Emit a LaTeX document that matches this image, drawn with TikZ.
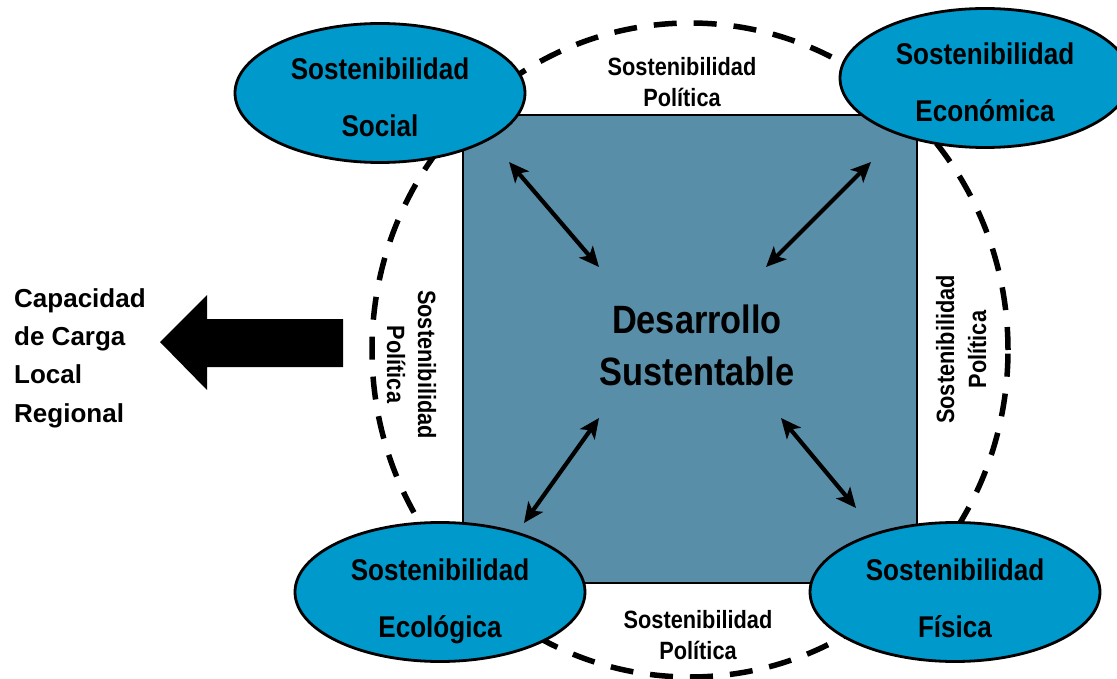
\documentclass[tikz,border=0pt]{standalone}
\usepackage{fontspec}
\setmainfont{Liberation Sans}
\newfontfamily\narrowf{Liberation Sans Bold}[FakeStretch=0.87]
\newfontfamily\wideb{Liberation Sans Bold}
\usetikzlibrary{shapes.geometric,arrows.meta}
\definecolor{sqfill}{RGB}{89,142,168}
\definecolor{elfill}{RGB}{0,153,204}
\begin{document}
\begin{tikzpicture}[x=1pt,y=-1pt,
  ellbox/.style={ellipse, draw=black, line width=2.8pt, fill=elfill,
    minimum width=290pt, minimum height=139pt, inner sep=0pt},
  elltxt/.style={anchor=base, inner sep=0pt, font=\narrowf\fontsize{30pt}{36pt}\selectfont},
  lbltxt/.style={anchor=base, inner sep=0pt, font=\narrowf\fontsize{25pt}{30pt}\selectfont},
  captxt/.style={anchor=base west, inner sep=0pt, font=\wideb\fontsize{26pt}{30pt}\selectfont},
  dbl/.style={line width=4.2pt,
    {Stealth[length=20pt,width=18pt,inset=5pt]}-{Stealth[length=20pt,width=18pt,inset=5pt]}},
  dashring/.style={line width=5.5pt, dash pattern=on 23pt off 17pt}
]
\useasboundingbox (0,0) rectangle (1117,679);
\clip (0,0) rectangle (1117,679);

% dashed ring
\draw[dashring] (690,350) ellipse [x radius=318pt, y radius=327pt];

% central square
\node[draw=black, line width=2.2pt, fill=sqfill, minimum width=454pt,
  minimum height=468pt, inner sep=0pt] (sq) at (690,349) {};

% ellipses
\node[ellbox] (soc) at (380,93) {};
\node[ellbox] (eco) at (985,78) {};
\node[ellbox] (ecl) at (440,592) {};
\node[ellbox] (fis) at (955,592) {};

% ellipse texts
\node[elltxt] (socA) at (380,80) {Sostenibilidad};
\node[elltxt] (socB) at (380,137) {Social};
\node[elltxt] (ecoA) at (985,65) {Sostenibilidad};
\node[elltxt] (ecoB) at (985,122) {Económica};
\node[elltxt] (eclA) at (440,580) {Sostenibilidad};
\node[elltxt] (eclB) at (440,637) {Ecológica};
\node[elltxt] (fisA) at (955,580) {Sostenibilidad};
\node[elltxt] (fisB) at (955,637) {Física};

% centre text
\node[anchor=base, inner sep=0pt, font=\narrowf\fontsize{39.5pt}{46pt}\selectfont] (ds1) at (697,333) {Desarrollo};
\node[anchor=base, inner sep=0pt, font=\narrowf\fontsize{39.5pt}{46pt}\selectfont] (ds2) at (697,385) {Sustentable};

% political labels
\node[lbltxt] (tpA) at (682,76) {Sostenibilidad};
\node[lbltxt] (tpB) at (682,107) {Política};
\node[lbltxt] (bpA) at (698,628) {Sostenibilidad};
\node[lbltxt] (bpB) at (698,659) {Política};
\node[lbltxt, rotate=-90] (lpA) at (418,364.5) {Sostenibilidad};
\node[lbltxt, rotate=-90] (lpB) at (387,364.5) {Política};
\node[lbltxt, rotate=90] (rpA) at (954,349.5) {Sostenibilidad};
\node[lbltxt, rotate=90] (rpB) at (986,349.5) {Política};

% double arrows
\coordinate (a1s) at (509,162); \coordinate (a1e) at (599,267);
\coordinate (a2s) at (871,162); \coordinate (a2e) at (766,267);
\coordinate (a3s) at (599,418); \coordinate (a3e) at (524,523);
\coordinate (a4s) at (781,418); \coordinate (a4e) at (856,508);
\draw[dbl] (a1s) -- (a1e);
\draw[dbl] (a2s) -- (a2e);
\draw[dbl] (a3s) -- (a3e);
\draw[dbl] (a4s) -- (a4e);

% big left arrow
\fill[black] (343,319) -- (207,319) -- (207,295) -- (160,342) -- (207,390)
  -- (207,367) -- (343,367) -- cycle;

% left text
\node[captxt] (c1) at (14,307) {Capacidad};
\node[captxt] (c2) at (14,345) {de Carga};
\node[captxt] (c3) at (14,383) {Local};
\node[captxt] (c4) at (14,422) {Regional};
\end{tikzpicture}
\end{document}
